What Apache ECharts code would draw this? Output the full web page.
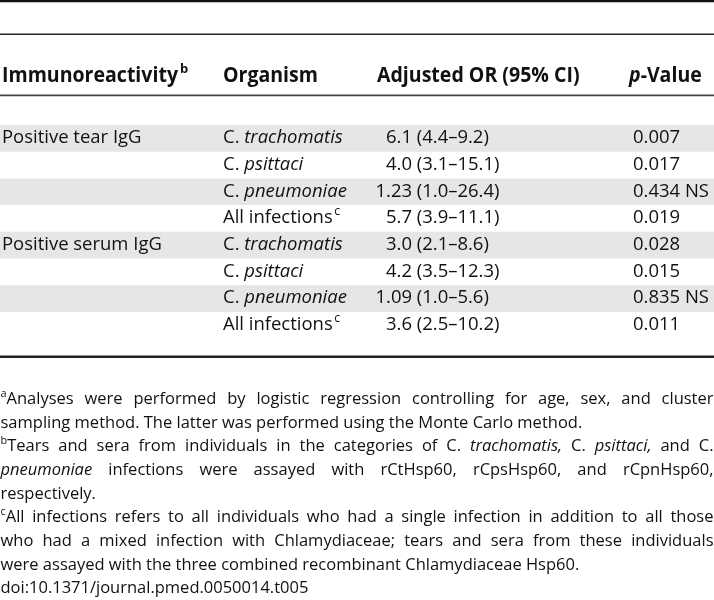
<!DOCTYPE html>
<html><head><meta charset="utf-8">
<script src="https://cdn.jsdelivr.net/npm/echarts@6/dist/echarts.min.js"></script>
<style>html,body{margin:0;padding:0;background:#fff}#c{width:714px;height:600px}</style>
</head><body><div id="c"></div>
<script>
// ---- table content ----
const headers = ['Immunoreactivity', 'Organism', 'Adjusted OR (95% CI)', 'p-Value'];
const headerNotes = ['b', '', '', ''];
const groups = ['Positive tear IgG', '', '', '', 'Positive serum IgG', '', '', ''];
const organisms = ['C. trachomatis', 'C. psittaci', 'C. pneumoniae', 'All infections',
                   'C. trachomatis', 'C. psittaci', 'C. pneumoniae', 'All infections'];
const organismNotes = ['', '', '', 'c', '', '', '', 'c'];
const orEstimates = ['6.1', '4.0', '1.23', '5.7', '3.0', '4.2', '1.09', '3.6'];
const orIntervals = ['(4.4–9.2)', '(3.1–15.1)', '(1.0–26.4)', '(3.9–11.1)',
                     '(2.1–8.6)', '(3.5–12.3)', '(1.0–5.6)', '(2.5–10.2)'];
const pValues = ['0.007', '0.017', '0.434 NS', '0.019', '0.028', '0.015', '0.835 NS', '0.011'];
// footnotes: ^x = superscript, *word* = italic
const footLines = [
  '^aAnalyses were performed by logistic regression controlling for age, sex, and cluster',
  'sampling method. The latter was performed using the Monte Carlo method.',
  '^bTears and sera from individuals in the categories of C. *trachomatis,* C. *psittaci,* and C.',
  '*pneumoniae* infections were assayed with rCtHsp60, rCpsHsp60, and rCpnHsp60,',
  'respectively.',
  '^cAll infections refers to all individuals who had a single infection in addition to all those',
  'who had a mixed infection with Chlamydiaceae; tears and sera from these individuals',
  'were assayed with the three combined recombinant Chlamydiaceae Hsp60.',
  'doi:10.1371/journal.pmed.0050014.t005'
];
const footJustify = [true, false, true, true, false, true, true, false, false];

// ---- measuring ----
const FAM = '"Open Sans", "Noto Sans", sans-serif';
const M = document.createElement('canvas').getContext('2d');
function mw(t, s) {
  M.font = (s.style || 'normal') + ' ' + (s.weight || 'normal') + ' ' + s.size + 'px ' + FAM;
  return M.measureText(t).width;
}
const TXT = '#111';
const bodySize = +(20 * 160 / mw('Positive serum IgG', {size: 20})).toFixed(2);
const footSize = +(16 * 308 / mw(footLines[8], {size: 16})).toFixed(2);
const headSize = 22;
const headScale = 176 / mw('Immunoreactivity', {size: headSize, weight: 'bold'});

function textEl(x, y, t, s, scale, align) {
  return {type: 'text', x: x, y: y, scaleX: scale || 1, silent: true,
    style: {text: t, fontFamily: FAM, fontSize: s.size, fontWeight: s.weight || 'normal',
      fontStyle: s.style || 'normal', fill: TXT, align: align || 'left', verticalAlign: 'middle'}};
}
function placeRun(out, x, y, segs, scale) {
  scale = scale || 1;
  segs.forEach(g => {
    out.push(textEl(x, y + (g.dy || 0), g.t, g.s, scale));
    x += mw(g.t, g.s) * scale;
  });
  return x;
}

// ---- static graphics: rules, header, footnotes ----
const W = 714;
const graphics = [];
function rule(y, h, c) {
  graphics.push({type: 'rect', silent: true, shape: {x: 0, y: y, width: W, height: h}, style: {fill: c}});
}
rule(0, 2.2, '#111');
rule(33.4, 1.7, '#222');
rule(94.4, 1.9, '#444');
rule(355.6, 2.3, '#222');

const HB = {size: headSize, weight: 'bold'};
const HBI = {size: headSize, weight: 'bold', style: 'italic'};
const headX = [2, 223, 377, 629];
const headY = 75.5;
headers.forEach((h, i) => {
  let segs;
  if (h.startsWith('p-')) segs = [{t: 'p', s: HBI}, {t: h.slice(1), s: HB}];
  else segs = [{t: h, s: HB}];
  let x = placeRun(graphics, headX[i], headY, segs, headScale);
  if (headerNotes[i]) placeRun(graphics, x + 2, headY - 6.5, [{t: headerNotes[i], s: {size: 13, weight: 'bold'}}], 1);
});

const FN = {size: footSize};
const FI = {size: footSize, style: 'italic'};
const FS = {size: footSize * 0.66};
function parseWord(word) {
  const segs = [];
  if (word[0] === '^') { segs.push({t: word[1], s: FS, dy: -5.5}); word = word.slice(2); }
  if (word.length > 1 && word[0] === '*' && word[word.length - 1] === '*') segs.push({t: word.slice(1, -1), s: FI});
  else segs.push({t: word, s: FN});
  return segs;
}
const footX0 = 0.5, footX1 = 713.5, footY0 = 399.5, footStep = 23.65;
footLines.forEach((line, li) => {
  const y = footY0 + li * footStep;
  const words = line.split(' ').map(parseWord);
  const widths = words.map(ws => ws.reduce((a, g) => a + mw(g.t, g.s), 0));
  const space = mw(' ', FN);
  let gap = space;
  if (footJustify[li] && words.length > 1) {
    const tot = widths.reduce((a, b) => a + b, 0);
    gap = (footX1 - footX0 - tot) / (words.length - 1);
  }
  let x = footX0;
  words.forEach((ws, wi) => { placeRun(graphics, x, y, ws); x += widths[wi] + gap; });
});

// ---- table body via custom series on a category axis ----
const BN = {size: bodySize};
const BI = {size: bodySize, style: 'italic'};
const BS = {size: bodySize * 0.66};
const rowIdx = organisms.map((_, i) => i);
function renderRow(params, api) {
  const i = api.value(1);
  const c = api.coord([0, i]);
  const h = api.size([0, 1])[1];
  const y = c[1] - 0.5;
  const kids = [];
  if (i % 2 === 0) kids.push({type: 'rect', shape: {x: 0, y: c[1] - h / 2, width: W, height: h}, style: {fill: '#e6e6e6'}});
  if (groups[i]) kids.push(textEl(2, y, groups[i], BN));
  const org = organisms[i];
  let segs = org.startsWith('C. ') ? [{t: 'C. ', s: BN}, {t: org.slice(3), s: BI}] : [{t: org, s: BN}];
  let x = placeRun(kids, 223, y, segs);
  if (organismNotes[i]) placeRun(kids, x + 1.5, y - 6, [{t: organismNotes[i], s: BS}]);
  kids.push(textEl(412, y, orEstimates[i], BN, 1, 'right'));
  kids.push(textEl(412, y, ' ' + orIntervals[i], BN, 1, 'left'));
  kids.push(textEl(633, y, pValues[i], BN));
  return {type: 'group', children: kids};
}

const chart = echarts.init(document.getElementById('c'), null, {renderer: 'canvas'});
chart.setOption({
  animation: false,
  backgroundColor: '#fff',
  grid: {left: 0, right: 0, top: 125, height: 213.6, containLabel: false},
  xAxis: {type: 'value', min: 0, max: W, show: false},
  yAxis: {type: 'category', data: organisms, inverse: true, show: false},
  series: [{
    type: 'custom', clip: false, silent: true,
    renderItem: renderRow,
    encode: {x: 0, y: 1},
    data: rowIdx.map(i => [0, i])
  }],
  graphic: {elements: graphics}
});
</script>
</body></html>
